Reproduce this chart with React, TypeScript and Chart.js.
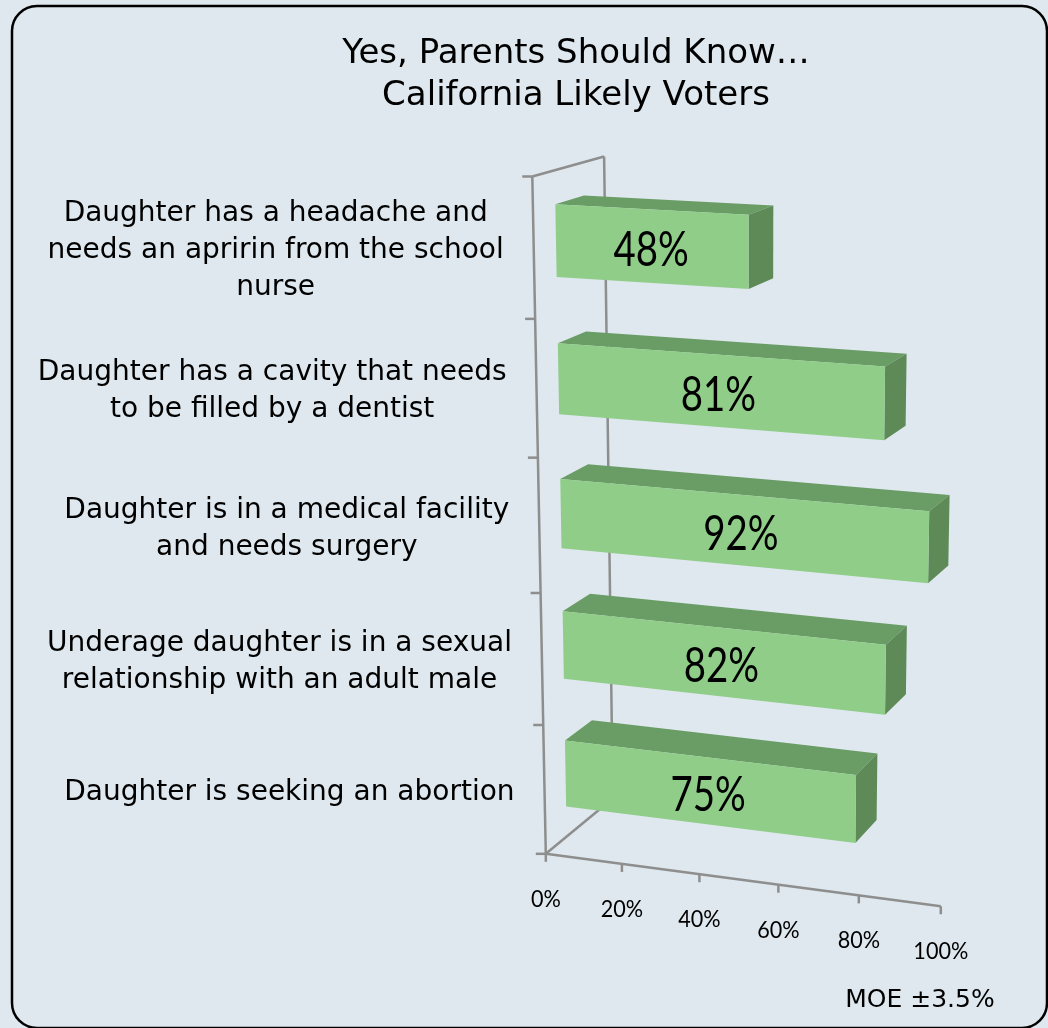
import React, { useEffect, useRef } from "react";
import { Chart, registerables } from "chart.js";

Chart.register(...registerables);

// ---------- data ----------
const categories: string[][] = [
  ["Daughter has a headache and", "needs an apririn from the school", "nurse"],
  ["Daughter has a cavity that needs", "to be filled by a dentist"],
  ["Daughter is in a medical facility", "and needs surgery"],
  ["Underage daughter is in a sexual", "relationship with an adult male"],
  ["Daughter is seeking an abortion"],
];
const values: number[] = [48, 81, 92, 82, 75];
const xTicks: number[] = [0, 20, 40, 60, 80, 100];
const xTickLabels: string[] = ["0%", "20%", "40%", "60%", "80%", "100%"];
const titleLines: string[] = ["Yes, Parents Should Know…", "California Likely Voters"];
const footnote = "MOE ±3.5%";

// ---------- 3D perspective frame: the 8 corners of the plot box on screen ----------
// [fraction along x-scale, fraction along y-scale, depth (0 front .. 1 back), screen x, screen y]
const BOX_CORNERS: number[][] = [
  [0, 0, 0, 532.3, 176.5],
  [0, 0, 1, 604.1, 156.5],
  [0, 1, 0, 545.8, 853.8],
  [0, 1, 1, 612.8, 798.6],
  [1, 0, 0, 953.4, 198.1],
  [1, 0, 1, 1003.5, 175.9],
  [1, 1, 0, 940.8, 906.3],
  [1, 1, 1, 988.6, 845.6],
];

const BAR_Z_FRONT = 0.3;
const BAR_Z_BACK = 0.7;

type Proj = (x: number, y: number, z: number) => [number, number];

function fitProjection(pts: number[][]): Proj {
  const N = 11;
  const M: number[][] = Array.from({ length: N }, () => new Array(N + 1).fill(0));
  const add = (row: number[], rhs: number) => {
    for (let i = 0; i < N; i++) {
      for (let j = 0; j < N; j++) M[i][j] += row[i] * row[j];
      M[i][N] += row[i] * rhs;
    }
  };
  for (const [X, Y, Z, u0, v0] of pts) {
    const u = (u0 - 700) / 300;
    const v = (v0 - 500) / 300;
    add([X, Y, Z, 1, 0, 0, 0, 0, -u * X, -u * Y, -u * Z], u);
    add([0, 0, 0, 0, X, Y, Z, 1, -v * X, -v * Y, -v * Z], v);
  }
  for (let c = 0; c < N; c++) {
    let p = c;
    for (let r = c + 1; r < N; r++) if (Math.abs(M[r][c]) > Math.abs(M[p][c])) p = r;
    const tmp = M[c]; M[c] = M[p]; M[p] = tmp;
    for (let r = 0; r < N; r++) {
      if (r === c) continue;
      const f = M[r][c] / M[c][c];
      for (let k = c; k <= N; k++) M[r][k] -= f * M[c][k];
    }
  }
  const p = M.map((row, i) => row[N] / row[i]);
  return (X, Y, Z) => {
    const w = p[8] * X + p[9] * Y + p[10] * Z + 1;
    const u = (p[0] * X + p[1] * Y + p[2] * Z + p[3]) / w;
    const v = (p[4] * X + p[5] * Y + p[6] * Z + p[7]) / w;
    return [u * 300 + 700, v * 300 + 500];
  };
}

const P = fitProjection(BOX_CORNERS);

const COLORS = {
  bg: "#dee8ee",
  border: "#000000",
  axis: "#8e8e8e",
  front: "#90cd89",
  top: "#6a9c65",
  side: "#5d8a57",
  text: "#000000",
};

function poly(ctx: CanvasRenderingContext2D, pts: [number, number][], fill: string) {
  ctx.beginPath();
  ctx.moveTo(pts[0][0], pts[0][1]);
  for (let i = 1; i < pts.length; i++) ctx.lineTo(pts[i][0], pts[i][1]);
  ctx.closePath();
  ctx.fillStyle = fill;
  ctx.fill();
}

function line(ctx: CanvasRenderingContext2D, a: [number, number], b: [number, number]) {
  ctx.beginPath();
  ctx.moveTo(a[0], a[1]);
  ctx.lineTo(b[0], b[1]);
  ctx.stroke();
}

function scaledText(ctx: CanvasRenderingContext2D, text: string, x: number, y: number, font: string, sx: number) {
  ctx.save();
  ctx.translate(x, y);
  ctx.scale(sx, 1);
  ctx.font = font;
  ctx.textAlign = "center";
  ctx.textBaseline = "alphabetic";
  ctx.fillStyle = COLORS.text;
  ctx.fillText(text, 0, 0);
  ctx.restore();
}

const bar3d = {
  id: "bar3d",
  beforeDraw(chart: any) {
    const ctx: CanvasRenderingContext2D = chart.ctx;
    ctx.save();
    ctx.fillStyle = COLORS.bg;
    ctx.fillRect(0, 0, chart.width, chart.height);
    ctx.beginPath();
    (ctx as any).roundRect(12, 6, 1035, 1022, 25);
    ctx.lineWidth = 2.5;
    ctx.strokeStyle = COLORS.border;
    ctx.stroke();
    ctx.restore();
  },
  beforeDatasetsDraw() {
    return false;
  },
  afterDraw(chart: any) {
    const ctx: CanvasRenderingContext2D = chart.ctx;
    const xs = chart.scales.x;
    const ys = chart.scales.y;
    const fx = (px: number) => (px - xs.left) / xs.width;
    const fy = (py: number) => (py - ys.top) / ys.height;
    ctx.save();

    // title
    ctx.font = '34px "DejaVu Sans"';
    ctx.fillStyle = COLORS.text;
    ctx.textAlign = "center";
    ctx.textBaseline = "alphabetic";
    ctx.fillText(titleLines[0], 576, 63);
    ctx.fillText(titleLines[1], 576, 105);

    // axis frame (left wall edges + floor front edge)
    const n = chart.data.labels.length;
    const yTop = fy(ys.getPixelForValue(-0.5));
    const yBot = fy(ys.getPixelForValue(n - 0.5));
    const x0 = fx(xs.getPixelForValue(0));
    const x1 = fx(xs.getPixelForValue(100));
    ctx.strokeStyle = COLORS.axis;
    ctx.lineWidth = 2.5;
    ctx.lineCap = "butt";
    line(ctx, P(x0, yTop, 0), P(x0, yBot, 0));
    line(ctx, P(x0, yTop, 1), P(x0, yBot, 1));
    line(ctx, P(x0, yTop, 0), P(x0, yTop, 1));
    line(ctx, P(x0, yBot, 0), P(x0, yBot, 1));
    line(ctx, P(x0, yBot, 0), P(x1, yBot, 0));
    for (let i = 0; i <= n; i++) {
      const a = P(x0, fy(ys.getPixelForValue(i - 0.5)), 0);
      line(ctx, [a[0] - 10, a[1]], a);
    }
    xTicks.forEach((t, i) => {
      const a = P(fx(xs.getPixelForValue(t)), yBot, 0);
      line(ctx, a, [a[0], a[1] + 8]);
      scaledText(ctx, xTickLabels[i], a[0], a[1] + 53, "24px Lato", 0.9);
    });

    // 3D bars
    const meta = chart.getDatasetMeta(0);
    meta.data.forEach((el: any, i: number) => {
      const { x, y, base, height } = el.getProps(["x", "y", "base", "height"], true);
      const a = fx(base);
      const b = fx(x);
      const t = fy(y - height / 2);
      const bt = fy(y + height / 2);
      const zf = BAR_Z_FRONT;
      const zb = BAR_Z_BACK;
      poly(ctx, [P(a, t, zf), P(b, t, zf), P(b, t, zb), P(a, t, zb)], COLORS.top);
      poly(ctx, [P(b, t, zf), P(b, t, zb), P(b, bt, zb), P(b, bt, zf)], COLORS.side);
      poly(ctx, [P(a, t, zf), P(b, t, zf), P(b, bt, zf), P(a, bt, zf)], COLORS.front);
      const c = P((a + b) / 2, fy(y), zf);
      scaledText(ctx, `${chart.data.datasets[0].data[i]}%`, c[0], c[1] + 20, "48px Lato", 0.8);
    });

    // category labels
    ctx.font = '28px "DejaVu Sans"';
    ctx.textAlign = "center";
    ctx.textBaseline = "middle";
    ctx.fillStyle = COLORS.text;
    chart.data.labels.forEach((lab: string[], i: number) => {
      const anchor = P(x0, fy(ys.getPixelForValue(i)), 0);
      const maxW = Math.max(...lab.map((s) => ctx.measureText(s).width));
      const right = anchor[0] - 30;
      const cx = right - maxW / 2;
      const lh = 37;
      const start = anchor[1] + 3 - ((lab.length - 1) * lh) / 2;
      lab.forEach((s, k) => ctx.fillText(s, cx, start + k * lh));
    });

    // footnote
    ctx.font = '25px "DejaVu Sans"';
    ctx.textBaseline = "alphabetic";
    ctx.textAlign = "center";
    ctx.fillText(footnote, 920, 1007);
    ctx.restore();
  },
};

export default function App() {
  const ref = useRef<HTMLCanvasElement>(null);
  useEffect(() => {
    const canvas = ref.current!;
    const chart = new Chart(canvas, {
      type: "bar",
      data: {
        labels: categories as any,
        datasets: [
          {
            data: values,
            backgroundColor: COLORS.front,
            barPercentage: 0.52,
            categoryPercentage: 1,
          },
        ],
      },
      options: {
        indexAxis: "y",
        responsive: false,
        animation: false,
        events: [],
        layout: { padding: 0 },
        scales: {
          x: { min: 0, max: 100, display: false },
          y: { display: false },
        },
        plugins: {
          legend: { display: false },
          title: { display: false },
          tooltip: { enabled: false },
        },
      },
      plugins: [bar3d as any],
    });
    return () => chart.destroy();
  }, []);
  return (
    <div style={{ position: "fixed", left: 0, top: 0, width: 1048, height: 1028 }}>
      <canvas ref={ref} width={1048} height={1028} style={{ display: "block" }} />
    </div>
  );
}
